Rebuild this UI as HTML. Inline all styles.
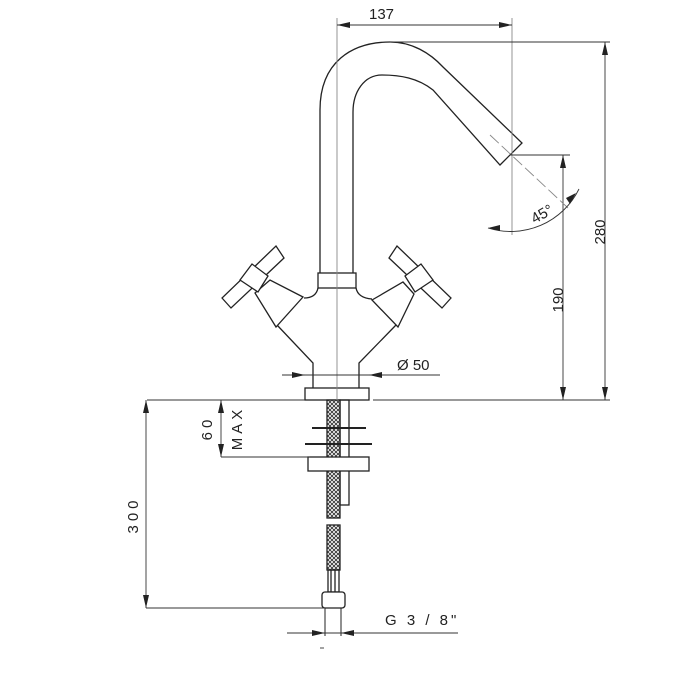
<!DOCTYPE html>
<html><head><meta charset="utf-8"><style>
html,body{margin:0;padding:0;background:#fff}
svg{display:block}
text{font-family:"Liberation Sans",sans-serif;fill:#222}
</style></head><body>
<svg width="700" height="700" viewBox="0 0 700 700" xmlns="http://www.w3.org/2000/svg">
<defs>
<pattern id="hatch" width="4" height="4" patternUnits="userSpaceOnUse">
<rect width="4" height="4" fill="#fff"/>
<path d="M0 0L4 4M4 0L0 4" stroke="#333" stroke-width="0.9"/>
</pattern>
</defs>
<g stroke="#222" fill="none" stroke-width="1.3">
<!-- spout -->
<path d="M320 273 L320 110 C320 62 352 42 390 42 C412 42 430 53 443 67 L522 143 L500 165 L433 90 C418 78 400 75 382 75 C364 75 353 92 353 112 L353 273"/>
<!-- collar -->
<rect x="318" y="273" width="38" height="15" fill="#fff"/>
<!-- body -->
<path d="M318 288 Q316 298 304 298"/>
<path d="M356 288 Q358 298 372 299"/>
<path d="M277 325 L313 363 L313 388"/>
<path d="M396 325 L359 363 L359 388"/>
<!-- hubs -->
<polygon points="255,293 270,280 303,297 276,327" fill="#fff"/>
<polygon points="372,300 403,282 414,294 398,327" fill="#fff"/>
<!-- left lever -->
<polygon points="222,298 231,308 284,258 276,246" fill="#fff"/>
<polygon points="240,280 252,264 268,276 258,292" fill="#fff"/>
<!-- right lever -->
<polygon points="451,298 442,308 389,258 397,246" fill="#fff"/>
<polygon points="433,280 421,264 405,276 415,292" fill="#fff"/>
<!-- base plate -->
<rect x="305" y="388" width="64" height="12" fill="#fff"/>
<!-- rod -->
<rect x="340" y="400" width="9" height="105"/>
<!-- hose -->
<rect x="327" y="400" width="13" height="118" fill="url(#hatch)"/>
<rect x="327" y="525" width="13" height="45" fill="url(#hatch)"/>
<!-- washers -->
<line x1="312" y1="428" x2="366" y2="428" stroke-width="2"/>
<line x1="305" y1="444" x2="372" y2="444" stroke-width="2"/>
<rect x="308" y="457" width="61" height="14" fill="#fff"/>
<!-- fitting -->
<rect x="328" y="570" width="11" height="22"/>
<line x1="331" y1="570" x2="331" y2="592"/><line x1="335" y1="570" x2="335" y2="592"/>
<rect x="322" y="592" width="23" height="16" rx="3" fill="#fff"/>
<line x1="325" y1="608" x2="325" y2="636" stroke-width="1"/>
<line x1="341" y1="608" x2="341" y2="636" stroke-width="1"/>
</g>
<!-- dimension lines -->
<g stroke="#333" stroke-width="0.9" fill="none">
<line x1="337" y1="18" x2="337" y2="400" stroke="#888"/>
<line x1="512" y1="18" x2="512" y2="235" stroke="#888"/>
<line x1="337" y1="25" x2="512" y2="25"/>
<line x1="390" y1="42" x2="610" y2="42"/>
<line x1="605" y1="42" x2="605" y2="400"/>
<line x1="510" y1="155" x2="570" y2="155"/>
<line x1="563" y1="155" x2="563" y2="400"/>
<line x1="373" y1="400" x2="610" y2="400"/>
<line x1="490" y1="135" x2="568" y2="208" stroke="#888" stroke-dasharray="12 4"/>
<path d="M488 228 A76 76 0 0 0 579 189"/>
<line x1="282" y1="375" x2="440" y2="375"/>
<line x1="147" y1="400" x2="305" y2="400"/>
<line x1="146" y1="400" x2="146" y2="608"/>
<line x1="146" y1="608" x2="325" y2="608"/>
<line x1="221" y1="400" x2="221" y2="457"/>
<line x1="221" y1="457" x2="310" y2="457"/>
<line x1="287" y1="633" x2="458" y2="633"/>
<line x1="320" y1="648" x2="324" y2="648"/>
</g>
<g fill="#222">
<polygon points="337,25 350,22 350,28"/>
<polygon points="512,25 499,22 499,28"/>
<polygon points="605,42 602,55 608,55"/>
<polygon points="605,400 602,387 608,387"/>
<polygon points="563,155 560,168 566,168"/>
<polygon points="563,400 560,387 566,387"/>
<polygon points="305,375 292,372 292,378"/>
<polygon points="369,375 382,372 382,378"/>
<polygon points="146,400 143,413 149,413"/>
<polygon points="146,608 143,595 149,595"/>
<polygon points="221,400 218,413 224,413"/>
<polygon points="221,457 218,444 224,444"/>
<polygon points="325,633 312,630 312,636"/>
<polygon points="341,633 354,630 354,636"/>
<polygon points="488,228 500,225 500,231"/>
<polygon points="570,204 576,193 566,198"/>
</g>
<g font-size="15">
<text x="369" y="19">137</text>
<text x="397" y="370">Ø 50</text>
<text x="385" y="625" letter-spacing="3">G 3 / 8"</text>
<text transform="translate(542,214) rotate(-30)" text-anchor="middle" y="5">45°</text>
<text transform="translate(600,232) rotate(-90)" text-anchor="middle" y="5">280</text>
<text transform="translate(558,300) rotate(-90)" text-anchor="middle" y="5">190</text>
<text transform="translate(133,515) rotate(-90)" text-anchor="middle" y="5" letter-spacing="4">300</text>
<text transform="translate(207,428) rotate(-90)" text-anchor="middle" y="5" letter-spacing="4">60</text>
<text transform="translate(237,428) rotate(-90)" text-anchor="middle" y="5" letter-spacing="4">MAX</text>
</g>
</svg>
</body></html>
